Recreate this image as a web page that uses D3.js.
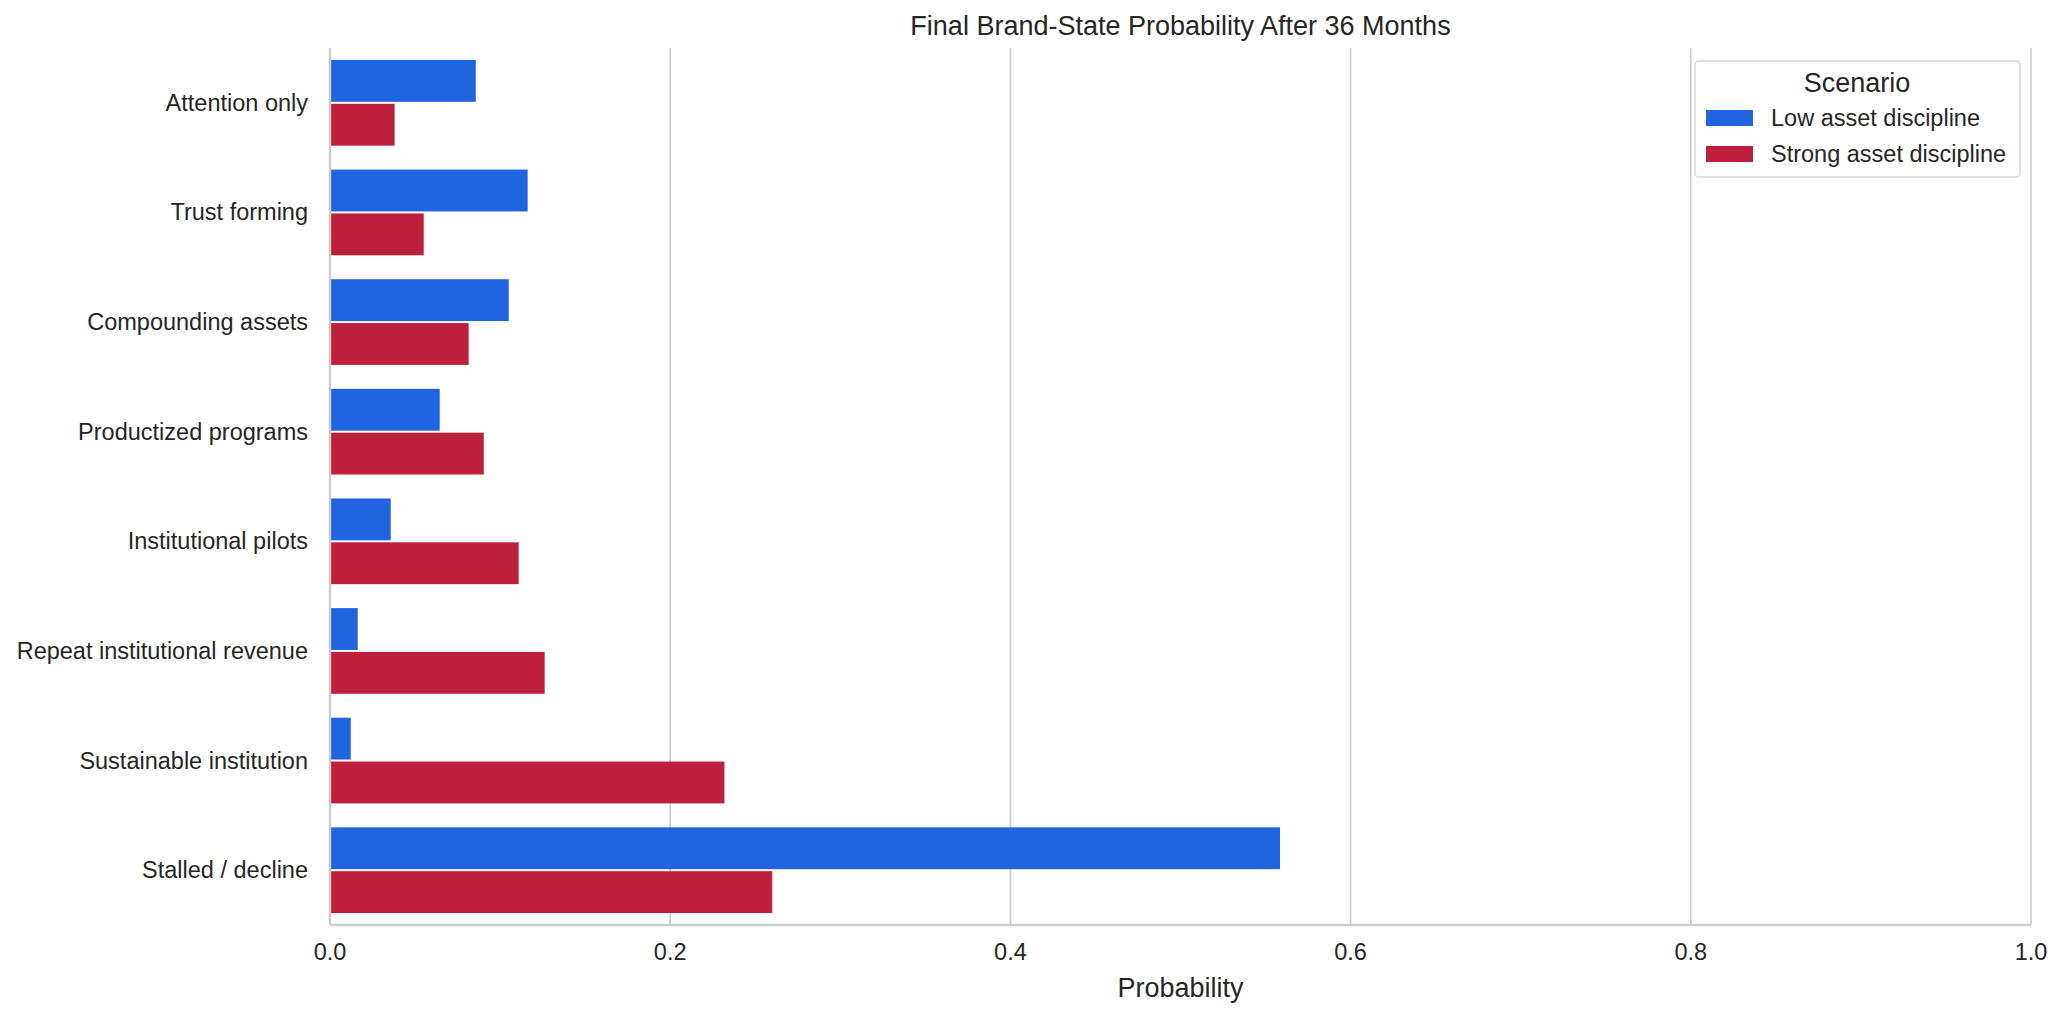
<!DOCTYPE html>
<html lang='en'>
<head>
  <title>Final Brand-State Probability</title>
  <meta charset="utf-8"/>
  <script src="https://d3js.org/d3.v7.min.js"></script>
  <style>
    body { margin: 0; background: #fff; }
    text { font-family: "Liberation Sans", Arial, sans-serif; fill: #262626; }
  </style>
</head>
<body>
<svg id="chart" width="2064" height="1020"></svg>
<script>
  // data
  const states = ["Attention only", "Trust forming", "Compounding assets", "Productized programs",
                  "Institutional pilots", "Repeat institutional revenue", "Sustainable institution", "Stalled / decline"];
  const scenarios = ["Low asset discipline", "Strong asset discipline"];
  const lowValues = [0.0857, 0.1162, 0.1051, 0.0645, 0.0357, 0.0163, 0.0122, 0.5585];
  const strongValues = [0.038, 0.0551, 0.0815, 0.0904, 0.1109, 0.1262, 0.2319, 0.260];
  const xTicks = [0, 0.2, 0.4, 0.6, 0.8, 1.0];
  const colors = ["#2065df", "#be1f3c"];

  const plotL = 330, plotR = 2031, plotT = 48, plotB = 925;
  const svg = d3.select("#chart");

  let rows = [];
  states.forEach(function(s, i){
    rows.push({state: s, scenario: scenarios[0], value: lowValues[i]});
    rows.push({state: s, scenario: scenarios[1], value: strongValues[i]});
  });

  const x = d3.scaleLinear().domain([0, 1]).range([plotL, plotR]);
  const y = d3.scaleBand().domain(states).range([plotT, plotB]).padding(0);
  const bw = y.bandwidth();
  const ySub = d3.scaleBand().domain(scenarios).range([bw*0.1, bw*0.9]).padding(0);
  const color = d3.scaleOrdinal().domain(scenarios).range(colors);

  // grid
  svg.append("g").selectAll("line.grid").data(xTicks.slice(1))
    .enter().append("line").attr("class","grid")
    .attr("x1", d => x(d)).attr("x2", d => x(d))
    .attr("y1", plotT).attr("y2", plotB)
    .attr("stroke", "#cccccc").attr("stroke-width", 1.6);

  // bars
  svg.append("g").selectAll("rect.bar").data(rows)
    .enter().append("rect").attr("class","bar")
    .attr("x", x(0))
    .attr("y", d => y(d.state) + ySub(d.scenario) + 1)
    .attr("width", d => x(d.value) - x(0))
    .attr("height", ySub.bandwidth() - 2)
    .attr("fill", d => color(d.scenario));

  // spines
  svg.append("line").attr("x1", plotL).attr("x2", plotL).attr("y1", plotT).attr("y2", plotB)
    .attr("stroke", "#cccccc").attr("stroke-width", 2.4);
  svg.append("line").attr("x1", plotL).attr("x2", plotR).attr("y1", plotB).attr("y2", plotB)
    .attr("stroke", "#cccccc").attr("stroke-width", 2.4);

  // x tick labels
  svg.append("g").selectAll("text.xt").data(xTicks)
    .enter().append("text").attr("class","xt")
    .attr("x", d => x(d)).attr("y", 952)
    .attr("text-anchor", "middle").attr("dominant-baseline", "central")
    .style("font-size", "23.5px")
    .text(d => d3.format(".1f")(d));

  // y tick labels
  svg.append("g").selectAll("text.yt").data(states)
    .enter().append("text").attr("class","yt")
    .attr("x", 308).attr("y", d => y(d) + bw/2)
    .attr("text-anchor", "end").attr("dominant-baseline", "central")
    .style("font-size", "23.5px")
    .text(d => d);

  svg.append("text").attr("x", (plotL+plotR)/2).attr("y", 988)
    .attr("text-anchor", "middle").attr("dominant-baseline", "central")
    .style("font-size", "27px").text("Probability");

  svg.append("text").attr("x", (plotL+plotR)/2).attr("y", 35)
    .attr("text-anchor", "middle")
    .style("font-size", "27px").text("Final Brand-State Probability After 36 Months");

  // legend
  const lg = svg.append("g").attr("transform", "translate(1695,61)");
  lg.append("rect").attr("width", 325).attr("height", 116).attr("rx", 4)
    .attr("fill", "#fff").attr("fill-opacity", 0.8)
    .attr("stroke", "#d6d6d6").attr("stroke-width", 1.5);
  lg.append("text").attr("x", 162).attr("y", 31).attr("text-anchor", "middle")
    .style("font-size", "27px").text("Scenario");
  const items = lg.selectAll("g.item").data(scenarios)
    .enter().append("g").attr("class","item")
    .attr("transform", (d, i) => "translate(11," + (49 + i*36) + ")");
  items.append("rect").attr("width", 47).attr("height", 16).attr("fill", d => color(d));
  items.append("text").attr("x", 65).attr("y", 8).attr("dominant-baseline", "central")
    .style("font-size", "23.5px").text(d => d);
</script>
</body>
</html>
